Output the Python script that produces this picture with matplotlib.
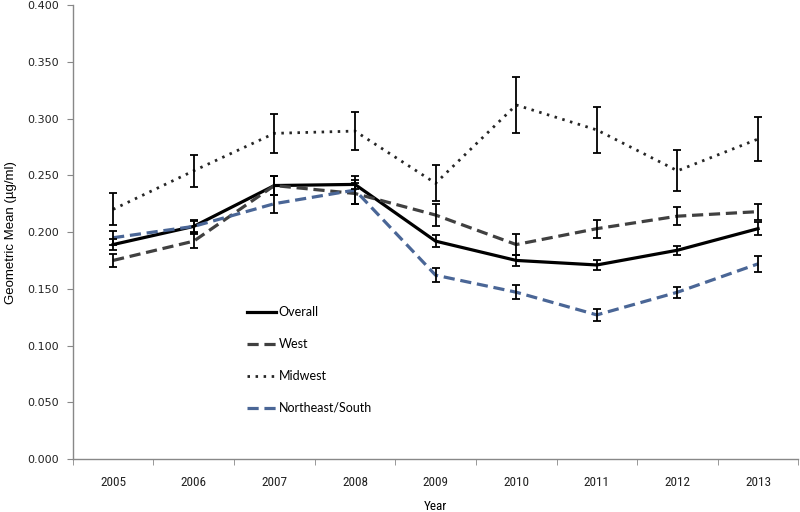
import matplotlib
matplotlib.use("Agg")
import matplotlib.pyplot as plt
from matplotlib import font_manager as fm
import numpy as np

years = ["2005", "2006", "2007", "2008", "2009", "2010", "2011", "2012", "2013"]

overall = [0.189, 0.205, 0.241, 0.242, 0.192, 0.175, 0.171, 0.184, 0.203]
overall_err = [0.005, 0.006, 0.008, 0.004, 0.005, 0.005, 0.004, 0.004, 0.006]

west = [0.175, 0.192, 0.241, 0.234, 0.215, 0.189, 0.203, 0.214, 0.218]
west_err = [0.006, 0.006, 0.008, 0.009, 0.010, 0.009, 0.008, 0.008, 0.007]

midwest = [0.220, 0.254, 0.287, 0.289, 0.243, 0.312, 0.290, 0.254, 0.282]
midwest_err = [0.014, 0.014, 0.017, 0.017, 0.016, 0.025, 0.020, 0.018, 0.019]

nesouth = [0.195, 0.205, 0.225, 0.237, 0.162, 0.147, 0.127, 0.147, 0.172]
nesouth_err = [0.006, 0.005, 0.008, 0.012, 0.006, 0.006, 0.005, 0.005, 0.007]

yticks = [0.0, 0.05, 0.10, 0.15, 0.20, 0.25, 0.30, 0.35, 0.40]


def pick(*names):
    for n in names:
        try:
            fm.findfont(fm.FontProperties(family=n), fallback_to_default=False)
            return n
        except Exception:
            continue
    return "DejaVu Sans"


narrow = pick("Liberation Sans Narrow", "Roboto Condensed", "Lato")
lato = pick("Lato", "Open Sans")

fig = plt.figure(figsize=(8, 5.12), dpi=100)
ax = fig.add_axes([0.091, 0.1035, 0.907, 0.8865])

x = np.arange(len(years))

series = [
    ("Overall", overall, overall_err, dict(color="#000000", lw=2.3, ls="-")),
    ("West", west, west_err, dict(color="#404040", lw=2.3, ls=(0, (3.5, 1.8)))),
    ("Midwest", midwest, midwest_err, dict(color="#262626", lw=2.0, ls=(0, (0.9, 2.0)))),
    ("Northeast/South", nesouth, nesouth_err, dict(color="#4A6696", lw=2.3, ls=(0, (3.5, 1.8)))),
]

handles = []
for name, vals, errs, st in series:
    ln, = ax.plot(x, vals, label=name, zorder=3, **st)
    handles.append(ln)
    ax.errorbar(x, vals, yerr=errs, fmt="none", ecolor="#000000",
                elinewidth=1.3, capsize=3, capthick=1.3, zorder=4)

ax.set_xlim(-0.5, len(years) - 0.5)
ax.set_ylim(0, 0.4)
ax.set_yticks(yticks)
ax.set_yticklabels([f"{v:.3f}" for v in yticks], fontsize=8, family="DejaVu Sans", color="#222222")
ax.set_xticks(x)
ax.set_xticklabels(years, fontsize=9.5, family=narrow, color="#222222")
ax.set_xticks(np.arange(-0.5, len(years), 1.0), minor=True)
ax.tick_params(axis="x", which="major", length=0, pad=12)
ax.tick_params(axis="x", which="minor", length=4, color="#888888", direction="out")
ax.tick_params(axis="y", length=4, color="#888888", direction="out", pad=6)

for s in ["top", "right"]:
    ax.spines[s].set_visible(False)
for s in ["left", "bottom"]:
    ax.spines[s].set_color("#888888")
    ax.spines[s].set_linewidth(1.0)

ax.set_ylabel("Geometric Mean (µg/ml)", fontsize=9.5, family="Liberation Sans", labelpad=4)
ax.set_xlabel("Year", fontsize=9.5, family=narrow, labelpad=8)
ax.yaxis.set_label_coords(-0.077, 0.5)

leg = ax.legend(handles=handles, loc="upper left", bbox_to_anchor=(0.225, 0.362),
                frameon=False, prop=dict(family=lato, size=9),
                labelspacing=1.6, handlelength=2.3, handletextpad=0.2)

fig.savefig("out.png", dpi=100)
